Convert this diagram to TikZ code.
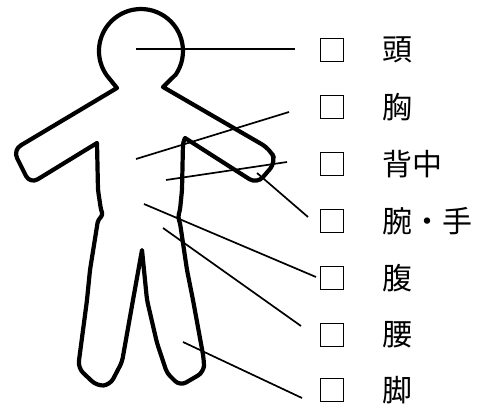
\documentclass[tikz,border=0pt]{standalone}
\usepackage{fontspec}
\newfontfamily\jp{Noto Sans CJK JP}
\begin{document}
\begin{tikzpicture}[x=1pt,y=1pt,
  body/.style={line width=4.2pt,line join=round,line cap=round},
  leader/.style={line width=1.7pt},
  tickbox/.style={draw,line width=0.9pt,minimum size=23pt,inner sep=0pt},
  lbl/.style={font=\jp\fontsize{30}{30}\selectfont,anchor=west,inner sep=0pt}]
\fill[white] (0,0) rectangle (488,-404);
\path[use as bounding box] (0,0) rectangle (488,-404);
% body outline
\draw[body] (117,-88)
  [rounded corners=9pt] -- (13,-150) -- (30,-184)
  [sharp corners] -- (97,-143)
  [rounded corners=3pt] -- (98,-190) -- (101,-210) -- (103,-215) -- (98,-220) -- (90,-270) -- (87,-300)
  [rounded corners=7pt] -- (78,-368) -- (97,-386) -- (110,-385)
  [rounded corners=4pt] -- (122,-362) -- (133,-300)
  [sharp corners] -- (142,-250)
  [rounded corners=4pt] -- (147,-300) -- (157,-343) -- (167,-373)
  [rounded corners=7pt] -- (180,-386) -- (204,-372) -- (204,-360)
  [rounded corners=3pt] -- (193,-300) -- (187,-270) -- (180,-223) -- (178,-217) -- (180,-210) -- (182,-190) -- (183,-143)
  [sharp corners] -- (185,-138)
  [rounded corners=9pt] -- (257,-184) -- (276,-162) -- (270,-149)
  [sharp corners] -- (163,-87) -- (175.8,-74.5)
  arc[start angle=-34,end angle=216,radius=42] -- cycle;
% boxes and labels
\foreach \n/\yy/\t in {1/50/頭,2/107/胸,3/164/背中,4/221/腕・手,5/278/腹,6/335/腰,7/390/脚}{
  \node[tickbox] (box\n) at (331.5,-\yy) {};
  \node[lbl] (lab\n) at (382,-\yy) {\t};
}
% leader lines
\coordinate (p1) at (136,-49);  \coordinate (q1) at (295,-49);
\coordinate (p2) at (136,-159); \coordinate (q2) at (289,-112);
\coordinate (p3) at (166,-180); \coordinate (q3) at (287,-162);
\coordinate (p4) at (257,-173); \coordinate (q4) at (308,-217);
\coordinate (p5) at (144,-204); \coordinate (q5) at (316,-277);
\coordinate (p6) at (163,-228); \coordinate (q6) at (301,-326);
\coordinate (p7) at (183,-342); \coordinate (q7) at (302,-398);
\foreach \n in {1,...,7}{\draw[leader] (p\n) -- (q\n);}
\end{tikzpicture}
\end{document}
